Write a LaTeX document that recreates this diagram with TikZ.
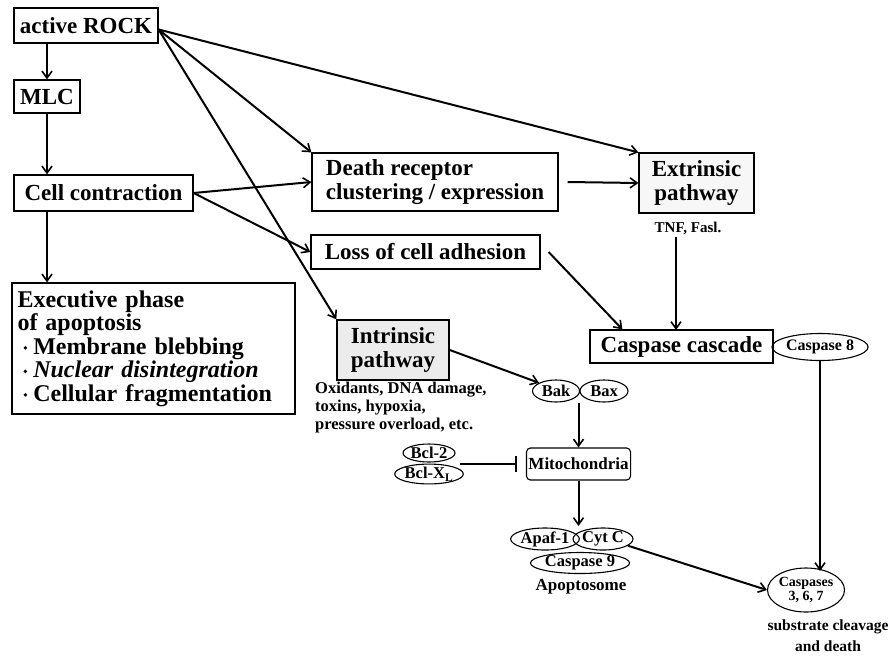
\documentclass[tikz,border=0pt]{standalone}
\usepackage{fontspec}
\setmainfont{Liberation Serif}
\usetikzlibrary{shapes.geometric,arrows.meta,calc}
\newcommand\mybul{\hspace*{6pt}\raisebox{0.4ex}{\tikz\fill (0,0) circle (1.9pt);}\hspace{6pt}}
\begin{document}
\begin{tikzpicture}[x=1pt,y=-1pt,
  box/.style={draw,line width=1.2pt,inner sep=2pt,align=center,font=\fontsize{23}{24}\selectfont\bfseries},
  oval/.style={draw,ellipse,line width=1.1pt,inner sep=0pt,font=\fontsize{16.5}{17}\selectfont\bfseries},
  lbl/.style={inner sep=0pt,font=\fontsize{16.5}{18}\selectfont\bfseries},
  arr/.style={line width=2pt,-{Straight Barb[length=7pt,width=10pt,line width=1.6pt]}},
  inh/.style={line width=2pt,-{Bar[width=16pt,line width=1.6pt]}}]
\useasboundingbox (0,0) rectangle (893,659);
% boxes
\node[box,minimum width=144,minimum height=35] (rock) at (86,25.5) {active ROCK};
\node[box,minimum width=66,minimum height=33] (mlc) at (47,96.5) {MLC};
\node[box,minimum width=179,minimum height=36] (cell) at (103.5,193) {Cell contraction};
\node[box,minimum width=283,minimum height=131,align=left,text width=272,inner sep=3pt,font=\fontsize{24}{23.5}\selectfont\bfseries] (exec) at (153.5,348.5)
 {Executive phase\\of apoptosis\\
  \mybul Membrane blebbing\\
  \mybul\textit{Nuclear disintegration}\\
  \mybul Cellular fragmentation};
\node[box,minimum width=246,minimum height=58,align=left] (death) at (435,182) {Death receptor\\clustering / expression};
\node[box,minimum width=229,minimum height=34] (loss) at (425.5,252) {Loss of cell adhesion};
\node[box,minimum width=115,minimum height=60,fill=gray!6] (extr) at (696.5,183) {Extrinsic\\pathway};
\node[lbl,font=\fontsize{15}{16}\selectfont\bfseries] (tnf) at (688,228) {TNF, Fasl.};
\node[box,minimum width=183,minimum height=33] (casc) at (681.5,346.5) {Caspase cascade};
\node[oval,minimum width=95,minimum height=27,font=\fontsize{16}{17}\selectfont\bfseries] (c8) at (820,347) {Caspase 8};
\node[box,minimum width=112,minimum height=60,fill=gray!15,line width=1.4pt] (intr) at (393,350) {Intrinsic\\pathway};
\node[lbl,anchor=west,align=left] (oxid) at (315,408) {Oxidants, DNA damage,\\toxins, hypoxia,\\pressure overload, etc.};
\node[oval,minimum width=47,minimum height=22] (bak) at (556,391) {Bak};
\node[oval,minimum width=48,minimum height=22] (bax) at (604,391) {Bax};
\node[draw,rounded corners=4pt,line width=1.1pt,minimum width=103,minimum height=32,inner sep=2pt,font=\fontsize{17}{18}\selectfont\bfseries] (mito) at (578.5,464) {Mitochondria};
\node[oval,minimum width=52,minimum height=18] (bcl2) at (429,453) {Bcl-2};
\node[oval,minimum width=52,minimum height=18] (bclx) at (429,474) {Bcl-X\textsubscript{L}};
\node[oval,minimum width=57,minimum height=22] (apaf) at (545,539) {Apaf-1};
\node[oval,minimum width=60,minimum height=22] (cytc) at (603,539) {Cyt C};
\node[oval,minimum width=86,minimum height=21] (c9) at (580,563) {Caspase 9};
\node[lbl,font=\fontsize{17}{18}\selectfont\bfseries] (apopt) at (581,587) {Apoptosome};
\node[oval,minimum width=68,minimum height=44,align=center,font=\fontsize{14}{14}\selectfont\bfseries] (c367) at (806,590) {Caspases\\3, 6, 7};
\node[lbl,align=center,font=\fontsize{15.5}{21}\selectfont\bfseries] (subst) at (828,636) {substrate cleavage\\and death};
% coordinates
\coordinate (r0) at ([yshift=-4pt]rock.east);
\coordinate (lossend) at ($(casc.north west)+(33,0)$);
\coordinate (tnfend) at (676,330);
\coordinate (tnfstart) at (676,237);
\coordinate (mitoin) at (578.5,526);
\coordinate (bcl) at (460,464);
\coordinate (c8end) at (820,571);
% connectors
\draw[arr] (mlc.north |- rock.south) -- (mlc.north);
\draw[arr] (mlc.south) -- (mlc.south |- cell.north);
\draw[arr] (mlc.south |- cell.south) -- (mlc.south |- exec.north);
\draw[arr] (r0) -- (extr.north west);
\draw[arr] (r0) -- (death.north west);
\draw[arr] (r0) -- (intr.north west);
\draw[arr] (cell.east) -- (death.west);
\draw[arr] (cell.east) -- (loss.west);
\draw[arr] ([xshift=9pt]death.east) -- (extr.west);
\draw[arr] ([xshift=8pt]loss.east) -- (lossend);
\draw[arr] (tnfstart) -- (tnfend);
\draw[arr] (intr.east) -- (bak.north west);
\draw[arr] (mito.north |- bak.south) -- (mito.north);
\draw[arr] (mito.south) -- (mitoin);
\draw[arr] (cytc.-15) -- (c367.west);
\draw[arr] (c8.south) -- (c8end);
\draw[inh] (bcl) -- ([xshift=-9pt]mito.west);
\end{tikzpicture}
\end{document}
